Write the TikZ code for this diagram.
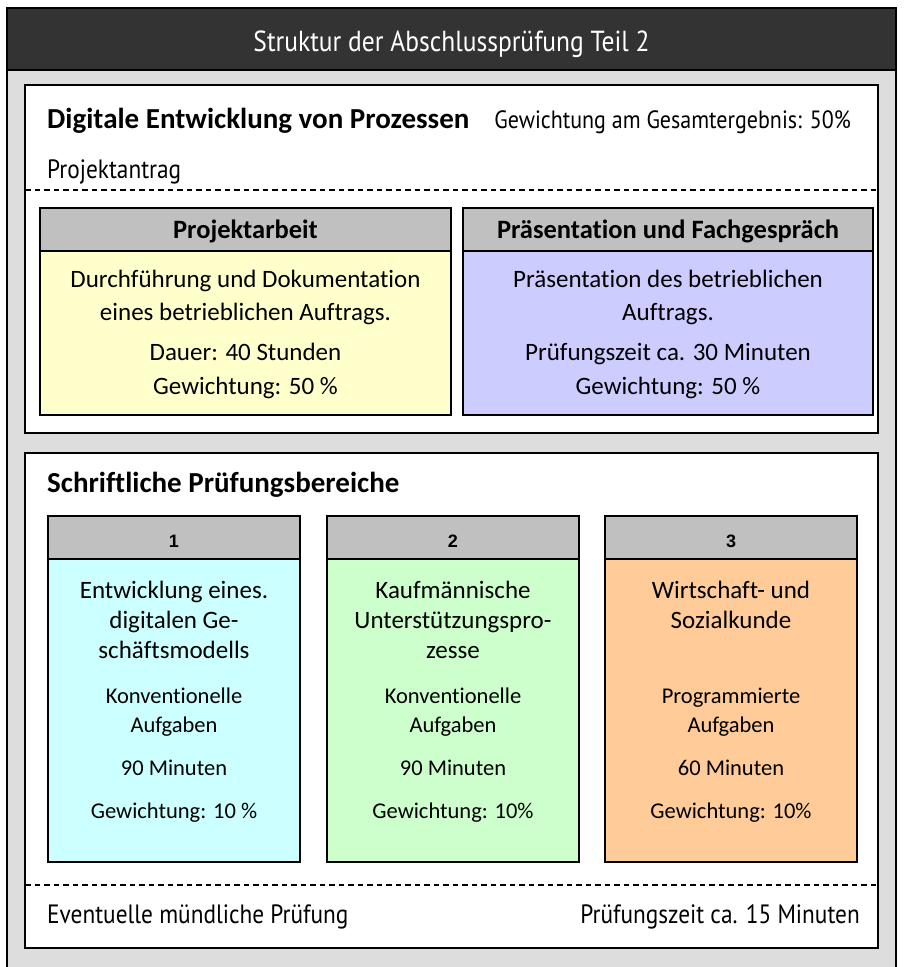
\documentclass[tikz,border=0pt]{standalone}
\usepackage{fontspec}
\setmainfont[Ligatures=NoCommon]{Carlito}
\newfontfamily\narrowfont[FakeStretch=0.88]{PT Sans}
\newfontfamily\numfont{Liberation Sans}
\definecolor{hdrdark}{HTML}{333333}
\definecolor{bggray}{HTML}{DDDDDD}
\definecolor{capgray}{HTML}{C0C0C0}
\definecolor{cyellow}{HTML}{FFFFCC}
\definecolor{clav}{HTML}{CCCCFF}
\definecolor{ccyan}{HTML}{CCFFFF}
\definecolor{cgreen}{HTML}{CCFFCC}
\definecolor{corange}{HTML}{FFCC99}
\begin{document}
\begin{tikzpicture}[x=1pt,y=-1pt,
  frame/.style={draw=black,line width=1.3pt},
  boxline/.style={draw=black,line width=1.2pt},
  txt/.style={anchor=base,inner sep=0pt,font=\fontsize{25}{30}\selectfont,align=center},
  small/.style={anchor=base,inner sep=0pt,font=\fontsize{22.5}{29}\selectfont,align=center},
  narrow/.style={anchor=base west,inner sep=0pt,font=\narrowfont\fontsize{26.5}{30}\selectfont},
  heading/.style={anchor=base west,inner sep=0pt,font=\bfseries\fontsize{29}{32}\selectfont},
  caphead/.style={anchor=base,inner sep=0pt,font=\bfseries\fontsize{26.5}{30}\selectfont},
  numhead/.style={anchor=base,inner sep=0pt,font=\numfont\bfseries\fontsize{18}{20}\selectfont},
  dashline/.style={draw=black,line width=1.1pt,dash pattern=on 5.5pt off 4pt}]
\useasboundingbox (0,0) rectangle (904,967);
\fill[white] (0,0) rectangle (904,967);
% outer frame
\filldraw[fill=bggray,frame] (7,8) rectangle (896,975);
\filldraw[fill=hdrdark,frame] (7,8) rectangle (896,70);
\node[anchor=base,inner sep=0pt,text=white,font=\narrowfont\fontsize{29}{32}\selectfont] (title) at (451.5,51) {Struktur der Abschlussprüfung Teil 2};
% top panel
\filldraw[fill=white,frame] (25,85) rectangle (878,433);
\node[heading] (h1) at (47,128) {Digitale Entwicklung von Prozessen};
\node[narrow,anchor=base east,font=\narrowfont\fontsize{25}{30}\selectfont] (gew) at (851,128) {Gewichtung am Gesamtergebnis: 50\%};
\node[narrow] (antrag) at (47,178) {Projektantrag};
\coordinate (d1a) at (25,190);
\coordinate (d1b) at (878,190);
\draw[dashline] (d1a) -- (d1b);
% Projektarbeit
\filldraw[fill=cyellow,boxline] (40,208) rectangle (451,415);
\filldraw[fill=capgray,boxline] (40,208) rectangle (451,251);
\node[caphead] (pa) at (245.5,238) {Projektarbeit};
\node[txt] (pa1) at (245.5,287) {Durchführung und Dokumentation};
\node[txt] (pa2) at (245.5,320) {eines betrieblichen Auftrags.};
\node[txt] (pa3) at (245.5,360) {Dauer: 40 Stunden};
\node[txt] (pa4) at (245.5,394) {Gewichtung: 50 \%};
% Praesentation
\filldraw[fill=clav,boxline] (463,208) rectangle (873,415);
\filldraw[fill=capgray,boxline] (463,208) rectangle (873,251);
\node[caphead] (pf) at (668,238) {Präsentation und Fachgespräch};
\node[txt] (pf1) at (668,287) {Präsentation des betrieblichen};
\node[txt] (pf2) at (668,320) {Auftrags.};
\node[txt] (pf3) at (668,360) {Prüfungszeit ca. 30 Minuten};
\node[txt] (pf4) at (668,394) {Gewichtung: 50 \%};
% bottom panel
\filldraw[fill=white,frame] (25,453) rectangle (878,948);
\node[heading] (h2) at (47,492) {Schriftliche Prüfungsbereiche};
% box 1
\filldraw[fill=ccyan,boxline] (48,516) rectangle (300,862);
\filldraw[fill=capgray,boxline] (48,516) rectangle (300,559);
\node[numhead] (n1) at (174,547) {1};
\node[txt] (b1a) at (174,658) {Entwicklung eines.\\digitalen Ge-\\schäftsmodells};
\node[small] (b1b) at (174,732) {Konventionelle\\Aufgaben};
\node[small] (b1c) at (174,775) {90 Minuten};
\node[small] (b1d) at (174,818) {Gewichtung: 10 \%};
% box 2
\filldraw[fill=cgreen,boxline] (327,516) rectangle (579,862);
\filldraw[fill=capgray,boxline] (327,516) rectangle (579,559);
\node[numhead] (n2) at (453,547) {2};
\node[txt] (b2a) at (453,658) {Kaufmännische\\Unterstützungspro-\\zesse};
\node[small] (b2b) at (453,732) {Konventionelle\\Aufgaben};
\node[small] (b2c) at (453,775) {90 Minuten};
\node[small] (b2d) at (453,818) {Gewichtung: 10\%};
% box 3
\filldraw[fill=corange,boxline] (605,516) rectangle (857,862);
\filldraw[fill=capgray,boxline] (605,516) rectangle (857,559);
\node[numhead] (n3) at (731,547) {3};
\node[txt] (b3a) at (731,628) {Wirtschaft- und\\Sozialkunde};
\node[small] (b3b) at (731,732) {Programmierte\\Aufgaben};
\node[small] (b3c) at (731,775) {60 Minuten};
\node[small] (b3d) at (731,818) {Gewichtung: 10\%};
% oral exam
\coordinate (d2a) at (25,885);
\coordinate (d2b) at (878,885);
\draw[dashline] (d2a) -- (d2b);
\node[narrow] (oral) at (47,923) {Eventuelle mündliche Prüfung};
\node[narrow,anchor=base east] (oralt) at (860,923) {Prüfungszeit ca. 15 Minuten};
\end{tikzpicture}
\end{document}
